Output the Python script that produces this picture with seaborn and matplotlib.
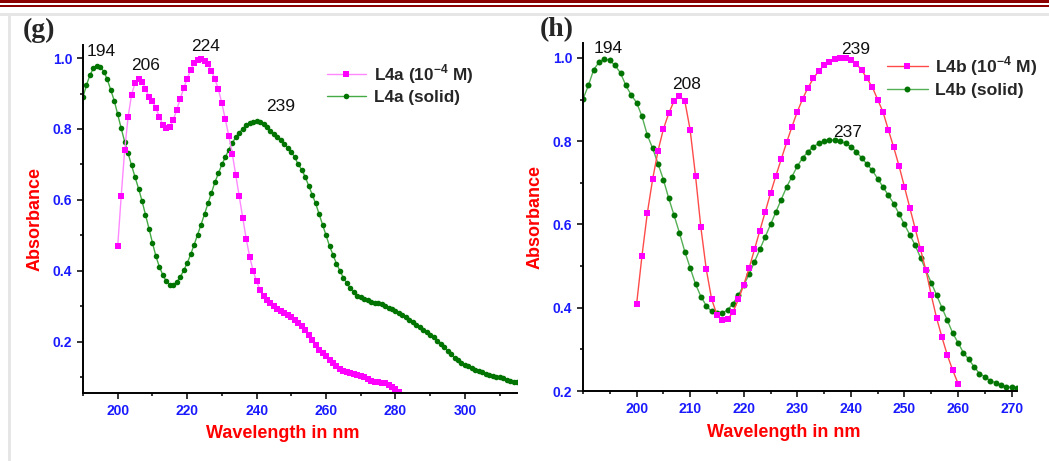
import numpy as np
import pandas as pd
import seaborn as sns
import matplotlib
matplotlib.use("Agg")
import matplotlib.pyplot as plt
from matplotlib.patches import Rectangle
from matplotlib.ticker import MultipleLocator, FixedLocator

# ---------------- data ----------------
g_sln_wl = list(range(200, 282))
g_sln_abs = [0.47, 0.61, 0.74, 0.835, 0.897, 0.93, 0.942, 0.933, 0.914, 0.89,
             0.88, 0.858, 0.835, 0.811, 0.802, 0.805, 0.826, 0.854, 0.885, 0.915,
             0.942, 0.966, 0.987, 0.996, 0.998, 0.992, 0.982, 0.964, 0.941, 0.912,
             0.872, 0.827, 0.78, 0.73, 0.67, 0.61, 0.55, 0.49, 0.44, 0.40,
             0.37, 0.345, 0.33, 0.318, 0.31, 0.30, 0.293, 0.286, 0.28, 0.275,
             0.27, 0.262, 0.252, 0.243, 0.234, 0.22, 0.205, 0.19, 0.177, 0.167,
             0.158, 0.149, 0.14, 0.13, 0.122, 0.117, 0.114, 0.112, 0.11, 0.107,
             0.103, 0.099, 0.094, 0.089, 0.086, 0.085, 0.084, 0.082, 0.078, 0.073,
             0.065, 0.057]

g_sol_wl = list(range(190, 316))
g_sol_abs = [0.89, 0.924, 0.952, 0.971, 0.979, 0.975, 0.962, 0.94, 0.91, 0.88,
             0.841, 0.802, 0.764, 0.731, 0.697, 0.664, 0.632, 0.597, 0.558, 0.519,
             0.479, 0.441, 0.411, 0.388, 0.370, 0.361, 0.361, 0.368, 0.382, 0.401,
             0.421, 0.446, 0.473, 0.502, 0.53, 0.56, 0.59, 0.62, 0.65, 0.675,
             0.70, 0.72, 0.742, 0.761, 0.776, 0.79, 0.80, 0.81, 0.817, 0.821,
             0.822, 0.82, 0.813, 0.805, 0.795, 0.786, 0.777, 0.768, 0.758, 0.747,
             0.735, 0.72, 0.70, 0.685, 0.665, 0.64, 0.615, 0.59, 0.56, 0.53,
             0.50, 0.47, 0.445, 0.42, 0.40, 0.38, 0.365, 0.35, 0.34, 0.33,
             0.325, 0.32, 0.317, 0.313, 0.31, 0.308, 0.305, 0.30, 0.296, 0.292,
             0.287, 0.281, 0.275, 0.269, 0.262, 0.255, 0.248, 0.241, 0.234, 0.227,
             0.22, 0.212, 0.203, 0.194, 0.184, 0.174, 0.164, 0.155, 0.147, 0.14,
             0.135, 0.13, 0.125, 0.121, 0.117, 0.113, 0.11, 0.107, 0.104, 0.101,
             0.099, 0.096, 0.093, 0.09, 0.087, 0.085]

h_sln_wl = list(range(200, 261))
h_sln_abs = [0.408, 0.524, 0.627, 0.709, 0.777, 0.829, 0.867, 0.897, 0.908, 0.897,
             0.827, 0.717, 0.593, 0.493, 0.421, 0.383, 0.37, 0.372, 0.39, 0.42,
             0.455, 0.495, 0.54, 0.585, 0.63, 0.675, 0.717, 0.757, 0.797, 0.835,
             0.871, 0.902, 0.929, 0.951, 0.969, 0.982, 0.991, 0.997, 0.999, 1.0,
             0.996, 0.986, 0.971, 0.951, 0.93, 0.90, 0.87, 0.827, 0.785, 0.74,
             0.69, 0.64, 0.59, 0.54, 0.49, 0.43, 0.375, 0.329, 0.286, 0.25,
             0.218]

h_sol_wl = list(range(190, 272))
h_sol_abs = [0.901, 0.934, 0.972, 0.99, 0.998, 0.994, 0.982, 0.964, 0.934, 0.911,
             0.893, 0.86, 0.815, 0.783, 0.746, 0.708, 0.663, 0.622, 0.58, 0.535,
             0.496, 0.457, 0.427, 0.405, 0.391, 0.387, 0.387, 0.395, 0.41, 0.43,
             0.455, 0.48, 0.51, 0.54, 0.57, 0.60, 0.63, 0.66, 0.69, 0.715,
             0.74, 0.76, 0.775, 0.787, 0.795, 0.80, 0.803, 0.803, 0.80, 0.795,
             0.787, 0.775, 0.76, 0.745, 0.73, 0.71, 0.69, 0.67, 0.65, 0.625,
             0.60, 0.575, 0.55, 0.52, 0.49, 0.46, 0.43, 0.40, 0.37, 0.339,
             0.316, 0.292, 0.276, 0.258, 0.242, 0.234, 0.225, 0.22, 0.214, 0.21,
             0.209, 0.208]

g_xticks = [200, 220, 240, 260, 280, 300]
h_xticks = [200, 210, 220, 230, 240, 250, 260, 270]

g_peaks = [("194", 195.1, 1.02), ("206", 208.1, 0.978), ("224", 225.4, 1.034), ("239", 247.0, 0.863)]
h_peaks = [("194", 194.7, 1.023), ("208", 209.3, 0.937), ("239", 240.8, 1.02), ("237", 239.3, 0.82)]

g_labels = [r"L4a (10$^{\mathbf{-4}}$ M)", "L4a (solid)"]
h_labels = [r"L4b (10$^{\mathbf{-4}}$ M)", "L4b (solid)"]

# ---------------- style ----------------
sns.set_style("ticks")
plt.rcParams["font.family"] = ["Liberation Sans", "DejaVu Sans"]
plt.rcParams["mathtext.fontset"] = "custom"
plt.rcParams["mathtext.rm"] = "Liberation Sans"
plt.rcParams["mathtext.bf"] = "Liberation Sans:bold"

BLUE = "#1a1aff"
RED = "#ff0000"
MAG = "#ff00ff"
DGREEN = "#007400"

W, H = 1049, 461
fig = plt.figure(figsize=(W / 100, H / 100), dpi=100)

# decorative frame
def frect(x0, y0, x1, y1, color):
    fig.add_artist(Rectangle((x0 / W, 1 - y1 / H), (x1 - x0) / W, (y1 - y0) / H,
                             transform=fig.transFigure, color=color, lw=0, zorder=-5))

frect(0, 0, W, 2.8, "#8b0000")
frect(0, 5, W, 7.4, "#8b0000")
frect(0, 13.3, W, 16, "#e6e6e6")
frect(8.3, 13.3, 11, H, "#e6e6e6")


def panel(ax, sln_wl, sln, sol_wl, sol, sln_line, sol_line, labels, peaks,
          xlim, ylim, xticks, xmin, ms, leg_anchor, leg_fs):
    df_sln = pd.DataFrame({"wl": sln_wl, "a": sln})
    df_sol = pd.DataFrame({"wl": sol_wl, "a": sol})
    sns.lineplot(data=df_sol, x="wl", y="a", ax=ax, color=sol_line, lw=1.0,
                 marker="o", markersize=ms, markerfacecolor=DGREEN,
                 markeredgecolor=DGREEN, markeredgewidth=0, legend=False)
    sns.lineplot(data=df_sln, x="wl", y="a", ax=ax, color=sln_line, lw=1.0,
                 marker="s", markersize=ms, markerfacecolor=MAG,
                 markeredgecolor=MAG, markeredgewidth=0, legend=False)
    lines = ax.get_lines()
    ax.set_xlim(*xlim)
    ax.set_ylim(*ylim)
    ax.xaxis.set_major_locator(FixedLocator(xticks))
    ax.xaxis.set_minor_locator(MultipleLocator(xmin))
    ax.yaxis.set_major_locator(MultipleLocator(0.2))
    ax.yaxis.set_minor_locator(MultipleLocator(0.1))
    ax.yaxis.set_major_formatter(matplotlib.ticker.FormatStrFormatter("%.1f"))
    sns.despine(ax=ax)
    for s in ("left", "bottom"):
        ax.spines[s].set_linewidth(1.4)
        ax.spines[s].set_color("black")
    ax.tick_params(which="major", direction="out", length=4.3, width=1.1,
                   color="black", labelsize=10, labelcolor=BLUE, pad=3.5)
    ax.tick_params(which="minor", direction="out", length=2.5, width=1.1, color="black")
    for t in ax.get_xticklabels() + ax.get_yticklabels():
        t.set_fontweight("bold")
    ax.set_xlabel("Wavelength in nm", color=RED, fontsize=13, fontweight="bold")
    ax.set_ylabel("Absorbance", color=RED, fontsize=13, fontweight="bold")
    for txt, x, y in peaks:
        ax.text(x, y, txt, ha="center", va="center", fontsize=12.5, color="#111111",
                clip_on=False)
    ax.legend([lines[1], lines[0]], labels, loc="upper left",
              bbox_to_anchor=leg_anchor, bbox_transform=fig.transFigure,
              frameon=False, borderaxespad=0, borderpad=0, handlelength=2.3,
              handletextpad=0.45, labelspacing=0.25,
              prop={"weight": "bold", "size": leg_fs})


ax1 = fig.add_axes([83 / W, 1 - 393 / H, 434 / W, 348 / H])
ax2 = fig.add_axes([583 / W, 1 - 391 / H, 434 / W, 348 / H])

panel(ax1, g_sln_wl, g_sln_abs, g_sol_wl, g_sol_abs, "#ff88ff", "#44aa44",
      g_labels, g_peaks, (190, 315), (0.055, 1.037), g_xticks, 10, 4.0,
      (326.7 / W, 1 - 62 / H), 12.3)
panel(ax2, h_sln_wl, h_sln_abs, h_sol_wl, h_sol_abs, "#ff4a4a", "#55b055",
      h_labels, h_peaks, (190, 271), (0.2, 1.036), h_xticks, 5, 4.3,
      (887.3 / W, 1 - 54.5 / H), 12.6)

ax1.xaxis.set_label_coords((283 - 83) / 434, -0.092)
ax1.yaxis.set_label_coords(-0.092, 0.501)
ax2.xaxis.set_label_coords((784 - 583) / 434, -0.095)
ax2.yaxis.set_label_coords(-0.09, 0.501)

fig.text(22.7 / W, 1 - 30.8 / H, "(g)", family="Liberation Serif", weight="bold",
         fontsize=20, ha="left", va="center")
fig.text(539.3 / W, 1 - 30 / H, "(h)", family="Liberation Serif", weight="bold",
         fontsize=20, ha="left", va="center")

fig.savefig("out.png", dpi=100)
